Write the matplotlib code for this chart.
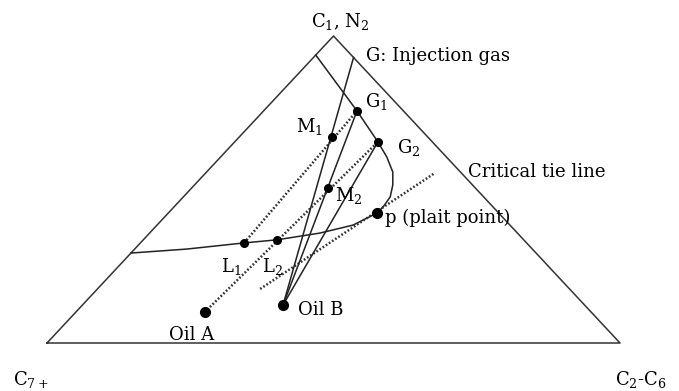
import numpy as np
import matplotlib.pyplot as plt

plt.rcParams['font.family'] = 'DejaVu Serif'
plt.rcParams['mathtext.fontset'] = 'dejavuserif'

# compositions as fractions of (C1/N2, C2-C6); C7+ is the remainder
point_names = ['G', 'G1', 'G2', 'M1', 'M2', 'L1', 'L2', 'p', 'Oil A', 'Oil B']
point_c1 = [0.93, 0.756, 0.655, 0.671, 0.505, 0.326, 0.336, 0.423, 0.100, 0.124]
point_c26 = [0.07, 0.163, 0.250, 0.162, 0.238, 0.181, 0.233, 0.364, 0.225, 0.350]

# two-phase envelope, bubble-point side -> plait point -> dew-point side
binodal_c1 = [0.293, 0.306, 0.326, 0.336, 0.358, 0.384, 0.423, 0.443, 0.476,
              0.515, 0.557, 0.606, 0.655, 0.756, 0.938]
binodal_c26 = [0.0, 0.091, 0.181, 0.233, 0.297, 0.342, 0.364, 0.365, 0.361,
               0.346, 0.325, 0.290, 0.250, 0.163, 0.0]

# critical tie line end points
crit_c1 = [0.176, 0.554]
crit_c26 = [0.284, 0.400]

dotted_pairs = [('Oil A', 'G2'), ('L1', 'G1')]
solid_pairs = [('Oil B', 'G'), ('Oil B', 'G1'), ('Oil B', 'G2')]


def tern_xy(c1, c26):
    c1 = np.asarray(c1, dtype=float)
    c26 = np.asarray(c26, dtype=float)
    return c26 + c1 / 2, c1


pts = {n: tern_xy(a, b) for n, a, b in zip(point_names, point_c1, point_c26)}

fig = plt.figure(figsize=(6.79, 3.91), dpi=100)
ax = fig.add_axes([47 / 679, 48 / 391, 573 / 679, 307 / 391])
ax.set_xlim(0, 1)
ax.set_ylim(0, 1)
ax.axis('off')

line_col = '#222222'

# triangle
tx, ty = tern_xy([0, 0, 1, 0], [0, 1, 0, 0])
ax.plot(tx, ty, color='#333333', lw=1.1, clip_on=False)

# binodal curve
bx, by = tern_xy(binodal_c1, binodal_c26)
ax.plot(bx, by, color=line_col, lw=1.1)

# dotted tie lines
dot_style = dict(color='#333333', lw=1.8, linestyle=(0, (0.7, 0.8)))
for a, b in dotted_pairs:
    ax.plot([pts[a][0], pts[b][0]], [pts[a][1], pts[b][1]], **dot_style)
cx, cy = tern_xy(crit_c1, crit_c26)
ax.plot(cx, cy, **dot_style)

# dilution lines from oil B
for a, b in solid_pairs:
    ax.plot([pts[a][0], pts[b][0]], [pts[a][1], pts[b][1]], color=line_col, lw=1.1)

# points
for n in ['G1', 'G2', 'M1', 'M2', 'L1', 'L2']:
    ax.plot(*pts[n], 'o', color='black', ms=5.5)
ax.plot(*pts['p'], 'o', color='black', ms=7)
ax.plot(*pts['Oil A'], 'o', color='black', ms=7)
ax.plot(*pts['Oil B'], 'o', color='black', ms=7)

# labels
fs = 13
labels = [
    ('G', 'G: Injection gas', (12, 1), 'left'),
    ('G1', 'G$_1$', (8, 9), 'left'),
    ('G2', 'G$_2$', (19, -6), 'left'),
    ('M1', 'M$_1$', (-9, 11), 'right'),
    ('M2', 'M$_2$', (7, -8), 'left'),
    ('L1', 'L$_1$', (-3, -24), 'right'),
    ('L2', 'L$_2$', (6, -27), 'right'),
    ('p', 'p (plait point)', (8, -5), 'left'),
    ('Oil A', 'Oil A', (-13, -23), 'center'),
    ('Oil B', 'Oil B', (15, -5), 'left'),
]
for n, txt, off, ha in labels:
    ax.annotate(txt, pts[n], xytext=off, textcoords='offset pixels',
                ha=ha, va='center', fontsize=fs)

ax.annotate('Critical tie line', (cx[1], cy[1]), xytext=(33, 1),
            textcoords='offset pixels', ha='left', va='center', fontsize=fs)

ax.annotate('C$_1$, N$_2$', (0.5, 1), xytext=(7, 15), textcoords='offset pixels',
            ha='center', va='center', fontsize=fs)
ax.annotate('C$_{7+}$', (0, 0), xytext=(-34, -37), textcoords='offset pixels',
            ha='left', va='center', fontsize=fs)
ax.annotate('C$_2$-C$_6$', (1, 0), xytext=(-5, -37), textcoords='offset pixels',
            ha='left', va='center', fontsize=fs)

fig.savefig('out.png', dpi=100)
